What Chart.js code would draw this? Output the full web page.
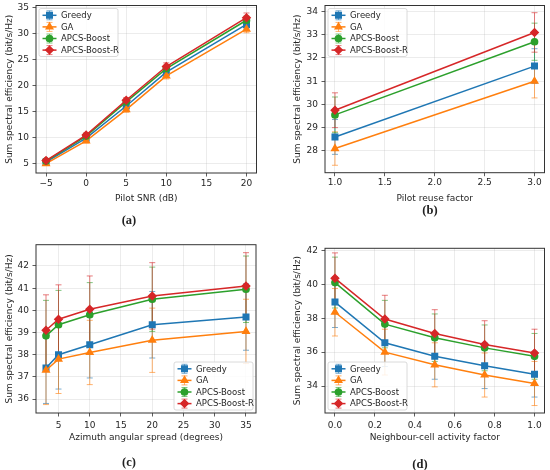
<!DOCTYPE html>
<html>
<head>
<meta charset="utf-8">
<script src="https://cdn.jsdelivr.net/npm/chart.js@4.4.0/dist/chart.umd.min.js"></script>
<style>
    body { margin: 0; background: #fff; width: 550px; height: 470px; position: relative; overflow: hidden; }
    .panel { position: absolute; width: 275px; height: 235px; }
    .cap { position: absolute; font: bold 12.5px "Liberation Serif", serif; color: #222; transform: translate(-50%, -50%); }
</style>
</head>
<body>
<div class="panel" style="left:0;top:0"><canvas id="chartA" width="275" height="235"></canvas></div>
<div class="panel" style="left:275px;top:0"><canvas id="chartB" width="275" height="235"></canvas></div>
<div class="panel" style="left:0;top:235px"><canvas id="chartC" width="275" height="235"></canvas></div>
<div class="panel" style="left:275px;top:235px"><canvas id="chartD" width="275" height="235"></canvas></div>
<div class="cap" style="left:129px;top:220px">(a)</div>
<div class="cap" style="left:430px;top:210px">(b)</div>
<div class="cap" style="left:129px;top:462px">(c)</div>
<div class="cap" style="left:420px;top:464px">(d)</div>
<script>
const seriesNames = ['Greedy', 'GA', 'APCS-Boost', 'APCS-Boost-R'];

// (a) pilot SNR
const snrX = [-5, 0, 5, 10, 20];
const snrGreedy = [5.3, 9.9, 16.1, 22.6, 31.8];
const snrGA = [5.0, 9.4, 15.4, 21.9, 30.9];
const snrBoost = [5.5, 10.3, 16.9, 23.3, 32.6];
const snrBoostR = [5.6, 10.5, 17.2, 23.7, 33.1];
const snrGreedyErr = [0.3, 0.4, 0.5, 0.6, 0.8];
const snrGAErr = [0.3, 0.4, 0.5, 0.6, 0.7];
const snrBoostErr = [0.3, 0.4, 0.5, 0.6, 0.8];
const snrBoostRErr = [0.3, 0.4, 0.5, 0.7, 0.9];
const snrXTicks = [-5, 0, 5, 10, 15, 20];
const snrYTicks = [5, 10, 15, 20, 25, 30, 35];

// (b) pilot reuse factor
const reuseX = [1, 3];
const reuseGreedy = [28.6, 31.65];
const reuseGA = [28.1, 31.0];
const reuseBoost = [29.55, 32.7];
const reuseBoostR = [29.75, 33.1];
const reuseGreedyErr = [0.75, 0.75];
const reuseGAErr = [0.72, 0.72];
const reuseBoostErr = [0.77, 0.8];
const reuseBoostRErr = [0.75, 0.85];
const reuseXTicks = [1.0, 1.5, 2.0, 2.5, 3.0];
const reuseYTicks = [28, 29, 30, 31, 32, 33, 34];

// (c) azimuth angular spread
const spreadX = [3, 5, 10, 20, 35];
const spreadGreedy = [37.4, 38.0, 38.45, 39.35, 39.7];
const spreadGA = [37.3, 37.8, 38.1, 38.65, 39.05];
const spreadBoost = [38.85, 39.35, 39.8, 40.5, 40.95];
const spreadBoostR = [39.1, 39.6, 40.05, 40.65, 41.1];
const spreadGreedyErr = [1.6, 1.55, 1.5, 1.5, 1.5];
const spreadGAErr = [1.55, 1.55, 1.45, 1.45, 1.45];
const spreadBoostErr = [1.6, 1.55, 1.45, 1.45, 1.5];
const spreadBoostRErr = [1.6, 1.55, 1.5, 1.5, 1.5];
const spreadXTicks = [5, 10, 15, 20, 25, 30, 35];
const spreadYTicks = [36, 37, 38, 39, 40, 41, 42];

// (d) neighbour-cell activity factor
const activityX = [0, 0.25, 0.5, 0.75, 1.0];
const activityGreedy = [38.95, 36.55, 35.75, 35.2, 34.7];
const activityGA = [38.35, 36.0, 35.25, 34.65, 34.15];
const activityBoost = [40.1, 37.65, 36.85, 36.25, 35.75];
const activityBoostR = [40.35, 37.95, 37.1, 36.45, 35.95];
const activityGreedyErr = [1.5, 1.4, 1.35, 1.35, 1.35];
const activityGAErr = [1.4, 1.35, 1.3, 1.3, 1.3];
const activityBoostErr = [1.5, 1.4, 1.4, 1.35, 1.35];
const activityBoostRErr = [1.5, 1.4, 1.4, 1.4, 1.4];
const activityXTicks = [0, 0.2, 0.4, 0.6, 0.8, 1.0];
const activityYTicks = [34, 36, 38, 40, 42];

const colors = ['#1f77b4', '#ff7f0e', '#2ca02c', '#d62728'];
const errColors = ['rgba(31,119,180,0.6)', 'rgba(255,127,14,0.6)', 'rgba(44,160,44,0.6)', 'rgba(214,39,40,0.6)'];
const markers = ['rect', 'triangle', 'circle', 'rectRot'];
const markerSizes = [3.9, 3.7, 3.1, 3.7];
const FONT = 'DejaVu Sans';

// error bars under the lines, drawn through the chart scales
const errorBars = {
    id: 'errorBars',
    beforeDatasetsDraw(chart) {
        const ctx = chart.ctx;
        const xs = chart.scales.x, ys = chart.scales.y;
        chart.data.datasets.forEach((ds) => {
            ctx.save();
            ctx.strokeStyle = ds.errColor;
            ctx.lineWidth = 1;
            ds.data.forEach((p, j) => {
                const px = xs.getPixelForValue(p.x);
                const top = ys.getPixelForValue(p.y + ds.errors[j]);
                const bot = ys.getPixelForValue(p.y - ds.errors[j]);
                ctx.beginPath();
                ctx.moveTo(px, top); ctx.lineTo(px, bot);
                ctx.moveTo(px - 3, top); ctx.lineTo(px + 3, top);
                ctx.moveTo(px - 3, bot); ctx.lineTo(px + 3, bot);
                ctx.stroke();
            });
            ctx.restore();
        });
    }
};

// axes frame + legend inside the plot
const frameLegend = {
    id: 'frameLegend',
    afterDraw(chart, args, opts) {
        const ctx = chart.ctx;
        const a = chart.chartArea;
        ctx.save();
        ctx.strokeStyle = '#333';
        ctx.lineWidth = 1;
        ctx.strokeRect(a.left, a.top, a.right - a.left, a.bottom - a.top);

        const w = 79, h = 48, inset = 3;
        const bx = opts.corner[1] === 'l' ? a.left + inset : a.right - inset - w;
        const by = opts.corner[0] === 't' ? a.top + inset : a.bottom - inset - h;
        ctx.fillStyle = 'rgba(255,255,255,0.85)';
        ctx.strokeStyle = '#d0d0d0';
        ctx.lineWidth = 0.8;
        ctx.beginPath();
        ctx.roundRect(bx, by, w, h, 2);
        ctx.fill();
        ctx.stroke();

        chart.data.datasets.forEach((ds, i) => {
            const cy = by + 6.8 + i * 11.6;
            const x0 = bx + 3.5, x1 = bx + 17.5, xm = (x0 + x1) / 2;
            ctx.strokeStyle = ds.errColor;
            ctx.lineWidth = 1;
            ctx.beginPath();
            ctx.moveTo(xm, cy - 4.5); ctx.lineTo(xm, cy + 4.5);
            ctx.moveTo(xm - 3, cy - 4.5); ctx.lineTo(xm + 3, cy - 4.5);
            ctx.moveTo(xm - 3, cy + 4.5); ctx.lineTo(xm + 3, cy + 4.5);
            ctx.stroke();
            ctx.strokeStyle = ds.borderColor;
            ctx.lineWidth = 1.5;
            ctx.beginPath();
            ctx.moveTo(x0, cy); ctx.lineTo(x1, cy);
            ctx.stroke();
            ctx.fillStyle = ds.borderColor;
            ctx.strokeStyle = ds.borderColor;
            Chart.helpers.drawPoint(ctx, { pointStyle: ds.pointStyle, radius: ds.pointRadius, rotation: 0, borderWidth: 1 }, xm, cy);
            ctx.fillStyle = '#262626';
            ctx.font = '8.5px "' + FONT + '"';
            ctx.textBaseline = 'middle';
            ctx.textAlign = 'left';
            ctx.fillText(ds.label, bx + 22, cy + 0.5);
        });
        ctx.restore();
    }
};

function makeChart(id, xs, ys, errs, p) {
    const datasets = ys.map((y, i) => ({
        label: seriesNames[i],
        data: xs.map((x, j) => ({ x: x, y: y[j] })),
        errors: errs[i],
        errColor: errColors[i],
        borderColor: colors[i],
        backgroundColor: colors[i],
        pointBackgroundColor: colors[i],
        pointBorderColor: colors[i],
        pointStyle: markers[i],
        pointRadius: markerSizes[i],
        borderWidth: 1.5,
        order: 4 - i,
    }));
    const tickFont = { family: FONT, size: 9 };
    new Chart(document.getElementById(id), {
        type: 'line',
        data: { datasets: datasets },
        options: {
            responsive: false,
            animation: false,
            layout: { padding: { left: 0, top: p.top, right: 275 - p.right, bottom: 235 - p.bottom - p.xh } },
            plugins: { legend: { display: false }, tooltip: { enabled: false }, frameLegend: { corner: p.corner } },
            scales: {
                x: {
                    type: 'linear', min: p.xMin, max: p.xMax,
                    afterBuildTicks: (s) => { s.ticks = p.xTicks.map(v => ({ value: v })); },
                    afterFit: (s) => { s.height = p.xh; s.paddingLeft = 0; s.paddingRight = 0; },
                    ticks: { font: tickFont, color: '#262626', padding: p.xPad, maxRotation: 0, autoSkip: false, callback: p.xFmt },
                    grid: { color: 'rgba(176,176,176,0.3)', tickColor: '#333', tickLength: 3.5, lineWidth: 0.8 },
                    border: { display: false },
                    title: { display: true, text: p.xTitle, font: { family: FONT, size: 9 }, color: '#262626', padding: 0 },
                },
                y: {
                    min: p.yMin, max: p.yMax,
                    afterBuildTicks: (s) => { s.ticks = p.yTicks.map(v => ({ value: v })); },
                    afterFit: (s) => { s.width = p.left; s.paddingTop = 0; s.paddingBottom = 0; },
                    ticks: { font: tickFont, color: '#262626', padding: 3.5, autoSkip: false, callback: (v) => String(v) },
                    grid: { color: 'rgba(176,176,176,0.3)', tickColor: '#333', tickLength: 3.5, lineWidth: 0.8 },
                    border: { display: false },
                    title: { display: true, text: 'Sum spectral efficiency (bit/s/Hz)', font: { family: FONT, size: 9 }, color: '#262626', padding: { top: p.yTitleOff, bottom: 0 } },
                },
            },
        },
        plugins: [errorBars, frameLegend],
    });
}

const minusFmt = (v) => (v < 0 ? '\u2212' + (-v) : String(v));
const oneDec = (v) => v.toFixed(1);

makeChart('chartA', snrX, [snrGreedy, snrGA, snrBoost, snrBoostR],
    [snrGreedyErr, snrGAErr, snrBoostErr, snrBoostRErr],
    { left: 36, top: 5, right: 256.5, bottom: 173, xh: 31.4, xPad: 1.5, yTitleOff: 4,
      xMin: -6.25, xMax: 21.25, yMin: 3.2, yMax: 35.44, xTicks: snrXTicks, yTicks: snrYTicks,
      xFmt: minusFmt, xTitle: 'Pilot SNR (dB)', corner: 'tl' });

makeChart('chartB', reuseX, [reuseGreedy, reuseGA, reuseBoost, reuseBoostR],
    [reuseGreedyErr, reuseGAErr, reuseBoostErr, reuseBoostRErr],
    { left: 50, top: 5, right: 270.7, bottom: 172.7, xh: 31.7, xPad: 1.5, yTitleOff: 17.6,
      xMin: 0.9, xMax: 3.1, yMin: 27.06, yMax: 34.26, xTicks: reuseXTicks, yTicks: reuseYTicks,
      xFmt: oneDec, xTitle: 'Pilot reuse factor', corner: 'tl' });

makeChart('chartC', spreadX, [spreadGreedy, spreadGA, spreadBoost, spreadBoostR],
    [spreadGreedyErr, spreadGAErr, spreadBoostErr, spreadBoostRErr],
    { left: 36, top: 9.7, right: 256, bottom: 178, xh: 30.4, xPad: 3.5, yTitleOff: 4,
      xMin: 1.4, xMax: 36.6, yMin: 35.37, yMax: 42.96, xTicks: spreadXTicks, yTicks: spreadYTicks,
      xFmt: (v) => String(v), xTitle: 'Azimuth angular spread (degrees)', corner: 'br' });

makeChart('chartD', activityX, [activityGreedy, activityGA, activityBoost, activityBoostR],
    [activityGreedyErr, activityGAErr, activityBoostErr, activityBoostRErr],
    { left: 50, top: 13.3, right: 270.7, bottom: 178, xh: 30.4, xPad: 3.5, yTitleOff: 17.6,
      xMin: -0.05, xMax: 1.05, yMin: 32.41, yMax: 42.12, xTicks: activityXTicks, yTicks: activityYTicks,
      xFmt: oneDec, xTitle: 'Neighbour-cell activity factor', corner: 'bl' });
</script>
</body>
</html>
